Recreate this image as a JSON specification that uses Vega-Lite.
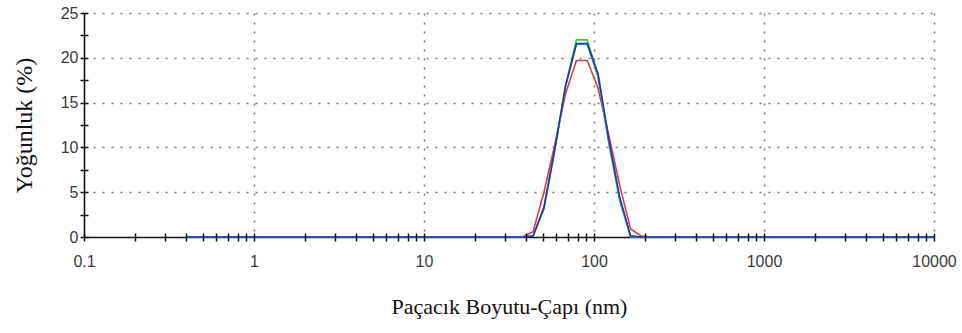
{
  "$schema": "https://vega.github.io/schema/vega-lite/v6.json",
  "width": 850,
  "height": 224,
  "autosize": {"type": "none"},
  "padding": {"left": 84, "top": 13, "right": 28, "bottom": 96},
  "background": "white",
  "config": {"view": {"stroke": null}},
  "data": {"values": [
    {"size": 0.4, "red": 0, "green": 0, "cyan": 0, "blue": 0},
    {"size": 0.4632, "red": 0, "green": 0, "cyan": 0, "blue": 0},
    {"size": 0.5365, "red": 0, "green": 0, "cyan": 0, "blue": 0},
    {"size": 0.6213, "red": 0, "green": 0, "cyan": 0, "blue": 0},
    {"size": 0.7195, "red": 0, "green": 0, "cyan": 0, "blue": 0},
    {"size": 0.8332, "red": 0, "green": 0, "cyan": 0, "blue": 0},
    {"size": 0.9649, "red": 0, "green": 0, "cyan": 0, "blue": 0},
    {"size": 1.117, "red": 0, "green": 0, "cyan": 0, "blue": 0},
    {"size": 1.294, "red": 0, "green": 0, "cyan": 0, "blue": 0},
    {"size": 1.499, "red": 0, "green": 0, "cyan": 0, "blue": 0},
    {"size": 1.736, "red": 0, "green": 0, "cyan": 0, "blue": 0},
    {"size": 2.01, "red": 0, "green": 0, "cyan": 0, "blue": 0},
    {"size": 2.328, "red": 0, "green": 0, "cyan": 0, "blue": 0},
    {"size": 2.696, "red": 0, "green": 0, "cyan": 0, "blue": 0},
    {"size": 3.122, "red": 0, "green": 0, "cyan": 0, "blue": 0},
    {"size": 3.615, "red": 0, "green": 0, "cyan": 0, "blue": 0},
    {"size": 4.187, "red": 0, "green": 0, "cyan": 0, "blue": 0},
    {"size": 4.849, "red": 0, "green": 0, "cyan": 0, "blue": 0},
    {"size": 5.615, "red": 0, "green": 0, "cyan": 0, "blue": 0},
    {"size": 6.503, "red": 0, "green": 0, "cyan": 0, "blue": 0},
    {"size": 7.531, "red": 0, "green": 0, "cyan": 0, "blue": 0},
    {"size": 8.721, "red": 0, "green": 0, "cyan": 0, "blue": 0},
    {"size": 10.1, "red": 0, "green": 0, "cyan": 0, "blue": 0},
    {"size": 11.7, "red": 0, "green": 0, "cyan": 0, "blue": 0},
    {"size": 13.54, "red": 0, "green": 0, "cyan": 0, "blue": 0},
    {"size": 15.69, "red": 0, "green": 0, "cyan": 0, "blue": 0},
    {"size": 18.17, "red": 0, "green": 0, "cyan": 0, "blue": 0},
    {"size": 21.04, "red": 0, "green": 0, "cyan": 0, "blue": 0},
    {"size": 24.36, "red": 0, "green": 0, "cyan": 0, "blue": 0},
    {"size": 28.21, "red": 0, "green": 0, "cyan": 0, "blue": 0},
    {"size": 32.67, "red": 0, "green": 0, "cyan": 0, "blue": 0},
    {"size": 37.84, "red": 0, "green": 0, "cyan": 0, "blue": 0},
    {"size": 43.82, "red": 0.6, "green": 0.1, "cyan": 0.1, "blue": 0.1},
    {"size": 50.75, "red": 5.0, "green": 3.1, "cyan": 3.3, "blue": 3.3},
    {"size": 58.77, "red": 10.3, "green": 9.6, "cyan": 9.8, "blue": 9.8},
    {"size": 68.06, "red": 16.0, "green": 16.9, "cyan": 16.8, "blue": 16.9},
    {"size": 78.82, "red": 19.7, "green": 22.0, "cyan": 21.5, "blue": 21.6},
    {"size": 91.28, "red": 19.7, "green": 22.0, "cyan": 21.5, "blue": 21.6},
    {"size": 105.7, "red": 16.6, "green": 18.0, "cyan": 17.8, "blue": 18.2},
    {"size": 122.4, "red": 11.3, "green": 10.6, "cyan": 10.4, "blue": 10.8},
    {"size": 141.8, "red": 5.7, "green": 4.2, "cyan": 4.0, "blue": 4.4},
    {"size": 164.2, "red": 0.9, "green": 0.1, "cyan": 0, "blue": 0.1},
    {"size": 190.1, "red": 0.1, "green": 0, "cyan": 0, "blue": 0},
    {"size": 220.2, "red": 0, "green": 0, "cyan": 0, "blue": 0},
    {"size": 255.0, "red": 0, "green": 0, "cyan": 0, "blue": 0},
    {"size": 295.3, "red": 0, "green": 0, "cyan": 0, "blue": 0},
    {"size": 342.0, "red": 0, "green": 0, "cyan": 0, "blue": 0},
    {"size": 396.1, "red": 0, "green": 0, "cyan": 0, "blue": 0},
    {"size": 458.7, "red": 0, "green": 0, "cyan": 0, "blue": 0},
    {"size": 531.2, "red": 0, "green": 0, "cyan": 0, "blue": 0},
    {"size": 615.1, "red": 0, "green": 0, "cyan": 0, "blue": 0},
    {"size": 712.4, "red": 0, "green": 0, "cyan": 0, "blue": 0},
    {"size": 825.0, "red": 0, "green": 0, "cyan": 0, "blue": 0},
    {"size": 955.4, "red": 0, "green": 0, "cyan": 0, "blue": 0},
    {"size": 1106, "red": 0, "green": 0, "cyan": 0, "blue": 0},
    {"size": 1281, "red": 0, "green": 0, "cyan": 0, "blue": 0},
    {"size": 1484, "red": 0, "green": 0, "cyan": 0, "blue": 0},
    {"size": 1718, "red": 0, "green": 0, "cyan": 0, "blue": 0},
    {"size": 1990, "red": 0, "green": 0, "cyan": 0, "blue": 0},
    {"size": 2305, "red": 0, "green": 0, "cyan": 0, "blue": 0},
    {"size": 2669, "red": 0, "green": 0, "cyan": 0, "blue": 0},
    {"size": 3091, "red": 0, "green": 0, "cyan": 0, "blue": 0},
    {"size": 3580, "red": 0, "green": 0, "cyan": 0, "blue": 0},
    {"size": 4145, "red": 0, "green": 0, "cyan": 0, "blue": 0},
    {"size": 4801, "red": 0, "green": 0, "cyan": 0, "blue": 0},
    {"size": 5560, "red": 0, "green": 0, "cyan": 0, "blue": 0},
    {"size": 6439, "red": 0, "green": 0, "cyan": 0, "blue": 0},
    {"size": 7456, "red": 0, "green": 0, "cyan": 0, "blue": 0},
    {"size": 8635, "red": 0, "green": 0, "cyan": 0, "blue": 0},
    {"size": 10000, "red": 0, "green": 0, "cyan": 0, "blue": 0}
  ]},
  "transform": [{"fold": ["red", "green", "cyan", "blue"], "as": ["series", "value"]}],
  "layer": [
    {
      "mark": {"type": "line", "strokeWidth": 1.6},
      "encoding": {
        "x": {
          "field": "size", "type": "quantitative",
          "scale": {"type": "log", "domain": [0.1, 10000], "nice": false},
          "axis": {
            "title": "Paçacık Boyutu-Çapı (nm)",
            "titleFont": "Liberation Serif", "titleFontSize": 22, "titleFontWeight": "normal", "titleColor": "#111",
            "titlePadding": 27,
            "values": [0.1,0.2,0.3,0.4,0.5,0.6,0.7,0.8,0.9,1,2,3,4,5,6,7,8,9,10,20,30,40,50,60,70,80,90,100,200,300,400,500,600,700,800,900,1000,2000,3000,4000,5000,6000,7000,8000,9000,10000],
            "labelExpr": "indexof([0.1,1,10,100,1000,10000], datum.value) >= 0 ? format(datum.value, '~g') : ''",
            "labelOverlap": false, "labelBound": false, "labelFlush": false,
            "labelFont": "Liberation Sans", "labelFontSize": 16, "labelColor": "#3a3a3a", "labelPadding": 12,
            "tickSize": 4, "tickColor": "#111", "tickWidth": 1.5,
            "domainColor": "#111", "domainWidth": 1.6,
            "grid": true, "gridColor": "#777", "gridDash": [2, 7], "gridWidth": 1.5,
            "gridOpacity": {"condition": {"test": "indexof([1,10,100,1000,10000], datum.value) >= 0", "value": 1}, "value": 0}
          }
        },
        "y": {
          "field": "value", "type": "quantitative",
          "scale": {"domain": [0, 25], "nice": false},
          "axis": {
            "title": "Yoğunluk (%)",
            "titleFont": "Liberation Serif", "titleFontSize": 24, "titleFontWeight": "normal", "titleColor": "#111",
            "titlePadding": 24,
            "values": [0,2.5,5,7.5,10,12.5,15,17.5,20,22.5,25],
            "labelExpr": "datum.value % 5 === 0 ? format(datum.value, 'd') : ''",
            "labelOverlap": false, "labelBound": false, "labelFlush": false,
            "labelFont": "Liberation Sans", "labelFontSize": 16, "labelColor": "#3a3a3a", "labelPadding": 2,
            "tickSize": 4, "tickColor": "#111", "tickWidth": 1.5,
            "domainColor": "#111", "domainWidth": 1.6,
            "grid": true, "gridColor": "#777", "gridDash": [2, 7], "gridWidth": 1.5,
            "gridOpacity": {"condition": {"test": "datum.value % 5 === 0 && datum.value > 0", "value": 1}, "value": 0}
          }
        },
        "color": {
          "field": "series", "type": "nominal",
          "scale": {"domain": ["red", "green", "cyan", "blue"], "range": ["#d83c48", "#3cc83c", "#22b4c4", "#3030a0"]},
          "legend": null
        }
      }
    },
    {
      "mark": {"type": "point", "opacity": 0},
      "encoding": {
        "x": {
          "field": "size", "type": "quantitative",
          "scale": {"type": "log", "domain": [0.1, 10000], "nice": false},
          "axis": {
            "orient": "bottom", "title": null, "labels": false, "domain": false, "grid": false,
            "values": [0.1,0.2,0.3,0.4,0.5,0.6,0.7,0.8,0.9,1,2,3,4,5,6,7,8,9,10,20,30,40,50,60,70,80,90,100,200,300,400,500,600,700,800,900,1000,2000,3000,4000,5000,6000,7000,8000,9000,10000],
            "tickSize": -4, "tickColor": "#111", "tickWidth": 1.5, "zindex": 1
          }
        },
        "y": {
          "field": "value", "type": "quantitative",
          "scale": {"domain": [0, 25], "nice": false},
          "axis": {
            "orient": "left", "title": null, "labels": false, "domain": false, "grid": false,
            "values": [0,2.5,5,7.5,10,12.5,15,17.5,20,22.5,25],
            "tickSize": -4, "tickColor": "#111", "tickWidth": 1.5, "zindex": 1
          }
        }
      }
    }
  ],
  "resolve": {"axis": {"x": "independent", "y": "independent"}}
}
